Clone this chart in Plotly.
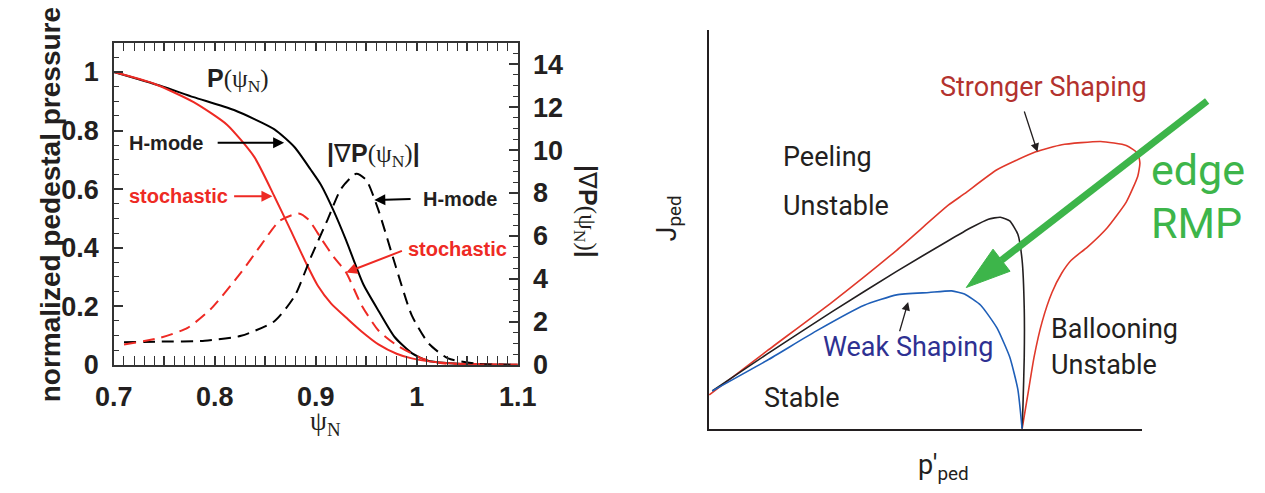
import plotly.graph_objects as go

# ---------------- Left panel data ----------------
psi_p_hmode = [0.70, 0.746, 0.779, 0.819, 0.859, 0.879, 0.895, 0.905, 0.918, 0.93, 0.947, 0.962, 0.978, 0.995, 1.011, 1.044, 1.10]
p_hmode = [1.0, 0.953, 0.914, 0.87, 0.804, 0.743, 0.666, 0.615, 0.523, 0.425, 0.275, 0.185, 0.095, 0.04, 0.014, 0.003, 0.0]

psi_p_stoch = [0.70, 0.74, 0.779, 0.812, 0.839, 0.859, 0.875, 0.89, 0.902, 0.915, 0.932, 0.945, 0.962, 0.98, 0.995, 1.028, 1.10]
p_stoch = [1.0, 0.96, 0.897, 0.82, 0.71, 0.575, 0.46, 0.35, 0.27, 0.21, 0.155, 0.115, 0.07, 0.038, 0.022, 0.006, 0.0]

psi_g_hmode = [0.71, 0.746, 0.79, 0.826, 0.859, 0.879, 0.895, 0.912, 0.925, 0.94, 0.95, 0.962, 0.979, 0.995, 1.012, 1.031, 1.061, 1.10]
g_hmode = [1.05, 1.08, 1.12, 1.35, 2.03, 3.2, 5.0, 6.8, 8.2, 8.9, 8.6, 7.2, 4.6, 2.3, 0.98, 0.3, 0.05, 0.0]

psi_g_stoch = [0.71, 0.746, 0.773, 0.796, 0.826, 0.846, 0.864, 0.883, 0.893, 0.905, 0.918, 0.93, 0.945, 0.962, 0.979, 1.005, 1.028, 1.10]
g_stoch = [0.95, 1.26, 1.72, 2.6, 4.3, 5.6, 6.7, 7.05, 6.75, 5.9, 5.0, 4.3, 2.8, 1.6, 0.95, 0.3, 0.05, 0.0]

x_tickvals = [0.7, 0.75, 0.8, 0.85, 0.9, 0.95, 1.0, 1.05, 1.1]
x_ticktext = ["0.7", "", "0.8", "", "0.9", "", "1", "", "1.1"]
y_tickvals = [0, 0.2, 0.4, 0.6, 0.8, 1.0]
y_ticktext = ["0", "0.2", "0.4", "0.6", "0.8", "1"]
y2_tickvals = [0, 2, 4, 6, 8, 10, 12, 14]

# ---------------- Right panel data (schematic, arbitrary units) ----------------
strong_x = [0.001, 0.137, 0.289, 0.440, 0.561, 0.599, 0.675, 0.766, 0.827, 0.918, 0.978, 1.005, 1.010,
            1.005, 0.978, 0.933, 0.887, 0.849, 0.827, 0.804, 0.781, 0.762, 0.747, 0.734]
strong_y = [0.085, 0.196, 0.318, 0.448, 0.561, 0.590, 0.650, 0.695, 0.713, 0.721, 0.711, 0.691, 0.667,
            0.634, 0.569, 0.504, 0.456, 0.423, 0.391, 0.342, 0.269, 0.180, 0.083, 0.0]

mid_x = [0.008, 0.137, 0.289, 0.440, 0.561, 0.615, 0.655, 0.683, 0.705, 0.724, 0.734, 0.739, 0.739, 0.736, 0.734]
mid_y = [0.095, 0.188, 0.294, 0.395, 0.472, 0.505, 0.526, 0.531, 0.522, 0.488, 0.423, 0.302, 0.180, 0.058, 0.0]

weak_x = [0.008, 0.137, 0.251, 0.364, 0.440, 0.516, 0.569, 0.599, 0.637, 0.675, 0.705, 0.724, 0.734]
weak_y = [0.095, 0.172, 0.245, 0.310, 0.336, 0.342, 0.346, 0.338, 0.310, 0.253, 0.180, 0.099, 0.0]

BLACK = "#231f20"
RED = "#ee2a24"
SANS = "Liberation Sans, Arial, sans-serif"
SERIF = "Liberation Serif, Times New Roman, serif"
RFONT = "Roboto, Open Sans, sans-serif"

fig = go.Figure()

dash = "12px,7px"
fig.add_trace(go.Scatter(x=psi_p_hmode, y=p_hmode, mode="lines", line=dict(color="black", width=2, shape="spline", smoothing=0.6), xaxis="x", yaxis="y"))
fig.add_trace(go.Scatter(x=psi_p_stoch, y=p_stoch, mode="lines", line=dict(color=RED, width=2, shape="spline", smoothing=0.6), xaxis="x", yaxis="y"))
fig.add_trace(go.Scatter(x=psi_g_hmode, y=g_hmode, mode="lines", line=dict(color="black", width=2, dash=dash, shape="spline", smoothing=0.6), xaxis="x", yaxis="y2"))
fig.add_trace(go.Scatter(x=psi_g_stoch, y=g_stoch, mode="lines", line=dict(color=RED, width=2, dash=dash, shape="spline", smoothing=0.6), xaxis="x", yaxis="y2"))

fig.add_trace(go.Scatter(x=strong_x, y=strong_y, mode="lines", line=dict(color="#e0392b", width=1.6, shape="spline", smoothing=0.5), xaxis="x3", yaxis="y3"))
fig.add_trace(go.Scatter(x=mid_x, y=mid_y, mode="lines", line=dict(color=BLACK, width=1.6, shape="spline", smoothing=0.5), xaxis="x3", yaxis="y3"))
fig.add_trace(go.Scatter(x=weak_x, y=weak_y, mode="lines", line=dict(color="#1f5fb8", width=1.6, shape="spline", smoothing=0.5), xaxis="x3", yaxis="y3"))

tickfont = dict(family=SANS, size=27, color=BLACK, weight="bold")
ax_common = dict(showgrid=False, zeroline=False, showline=True, linecolor="#333", linewidth=1.5,
                 ticks="inside", tickcolor="#333", tickwidth=1.5, tickfont=tickfont)

fig.update_layout(
    width=1265, height=493,
    margin=dict(l=0, r=0, t=0, b=0),
    paper_bgcolor="white", plot_bgcolor="white",
    showlegend=False,
    xaxis=dict(domain=[0.0708, 0.4], range=[0.7, 1.1], anchor="y", tickmode="array",
               tickvals=x_tickvals, ticktext=x_ticktext, ticklen=9, mirror="allticks",
               minor=dict(dtick=0.01, ticklen=5, ticks="inside", tickcolor="#333", tickwidth=1.2),
               ticklabelstandoff=7, **ax_common),
    yaxis=dict(domain=[0.2535, 0.9274], range=[0, 1.1], anchor="x", tickmode="array",
               tickvals=y_tickvals, ticktext=y_ticktext, ticklen=9, mirror=True,
               minor=dict(dtick=0.05, ticklen=5, ticks="inside", tickcolor="#333", tickwidth=1.2),
               ticklabelstandoff=8, **ax_common),
    yaxis2=dict(range=[0, 15], overlaying="y", side="right", anchor="x", tickmode="array",
                tickvals=y2_tickvals, ticklen=9,
                minor=dict(dtick=0.5, ticklen=5, ticks="inside", tickcolor="#333", tickwidth=1.2),
                ticklabelstandoff=8, **ax_common),
    xaxis3=dict(domain=[0.5557, 0.9091], range=[0, 1.016], anchor="y3", showgrid=False, zeroline=False,
                showline=True, linecolor=BLACK, linewidth=2, showticklabels=False, ticks=""),
    yaxis3=dict(domain=[0.1197, 0.9533], range=[0, 1.0], anchor="x3", showgrid=False, zeroline=False,
                showline=True, linecolor=BLACK, linewidth=2, showticklabels=False, ticks=""),
)

ann = []
def txt(x, y, text, size, color=BLACK, family=SANS, xref="x", yref="y", xanchor="center", angle=0, bold=False):
    f = dict(family=family, size=size, color=color)
    if bold:
        f["weight"] = "bold"
    ann.append(dict(x=x, y=y, xref=xref, yref=yref, text=text, showarrow=False, font=f,
                    xanchor=xanchor, yanchor="middle", textangle=angle))

def arrow(x0, y0, x1, y1, color, width=2, size=1.1, xref="x", yref="y"):
    ann.append(dict(x=x1, y=y1, ax=x0, ay=y0, xref=xref, yref=yref, axref=xref, ayref=yref,
                    text="", showarrow=True, arrowhead=2, arrowsize=size, arrowwidth=width,
                    arrowcolor=color))

# left panel labels
ser = "font-family:Liberation Serif,serif;font-weight:normal"
txt(0.8234, 0.973, f"P<span style='{ser}'>(ψ<sub>N</sub>)</span>", 25, bold=True)
txt(0.7519, 0.758, "H-mode", 20, bold=True)
arrow(0.8013, 0.758, 0.8686, 0.758, "black")
txt(0.7639, 0.576, "stochastic", 20, color=RED, bold=True)
arrow(0.8176, 0.576, 0.857, 0.576, RED)
txt(0.9569, 0.715, f"|<span style='font-weight:normal'>∇</span>P<span style='{ser}'>(ψ<sub>N</sub>)</span>|", 25, bold=True)
txt(1.0429, 0.566, "H-mode", 20, bold=True)
arrow(0.9953, 0.566, 0.9579, 0.563, "black")
txt(1.0405, 0.397, "stochastic", 20, color=RED, bold=True)
arrow(0.9867, 0.391, 0.930, 0.315, RED)

txt(0.2435, 0.132, "ψ<sub>N</sub>", 27, family=SERIF, xref="paper", yref="paper")
txt(0.0198, 0.588, "normalized pedestal pressure", 28, xref="paper", yref="paper", angle=-90, bold=True)
txt(0.456, 0.574, f"|<span style='font-weight:normal'>∇</span>P<span style='{ser}'>(ψ<sub>N</sub>)</span>|", 25,
    xref="paper", yref="paper", angle=90, bold=True)

# right panel labels
txt(0.784, 0.859, "Stronger Shaping", 27, color="#b3322e", family=RFONT, xref="x3", yref="y3")
txt(0.170, 0.681, "Peeling", 27, family=RFONT, xref="x3", yref="y3", xanchor="left")
txt(0.170, 0.560, "Unstable", 27, family=RFONT, xref="x3", yref="y3", xanchor="left")
txt(0.124, 0.078, "Stable", 27, family=RFONT, xref="x3", yref="y3", xanchor="left")
txt(0.262, 0.204, "Weak Shaping", 27, color="#2e3192", family=RFONT, xref="x3", yref="y3", xanchor="left")
txt(0.798, 0.251, "Ballooning", 27, family=RFONT, xref="x3", yref="y3", xanchor="left")
txt(0.798, 0.161, "Unstable", 27, family=RFONT, xref="x3", yref="y3", xanchor="left")
txt(0.9146, 0.6613, "edge", 43, color="#3db54a", family=RFONT, xref="paper", yref="paper", xanchor="left")
txt(0.9146, 0.5497, "RMP", 43, color="#3db54a", family=RFONT, xref="paper", yref="paper", xanchor="left")
txt(0.5233, 0.5598, "J<sub>ped</sub>", 27, family=RFONT, xref="paper", yref="paper", angle=-90)
txt(0.7470, 0.0406, "p′<sub>ped</sub>", 27, family=RFONT, xref="paper", yref="paper")

arrow(0.738, 0.800, 0.770, 0.695, BLACK, width=1.3, size=1.3, xref="x3", yref="y3")
arrow(0.446, 0.241, 0.467, 0.318, BLACK, width=1.3, size=1.3, xref="x3", yref="y3")

fig.update_layout(annotations=ann)

# green "edge RMP" arrow (paper coordinates)
GREEN = "#3db54a"
fig.add_shape(type="line", xref="paper", yref="paper", x0=0.9618, y0=0.8053, x1=0.7942, y1=0.4724,
              line=dict(color=GREEN, width=7))
fig.add_shape(type="path", xref="paper", yref="paper",
              path="M 0.7655 0.4152 L 0.8012 0.4493 L 0.7873 0.4955 Z",
              fillcolor=GREEN, line=dict(color=GREEN, width=1))

fig.write_html("out.html")
